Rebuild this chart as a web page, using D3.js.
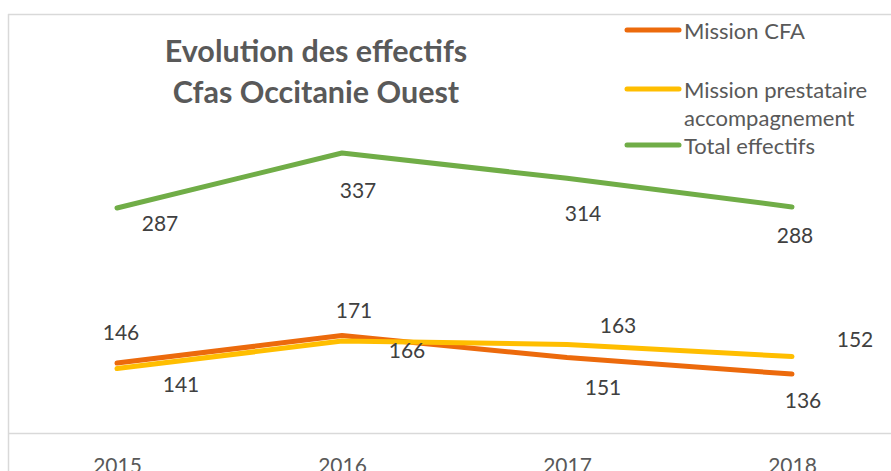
<!DOCTYPE html>
<html><head><meta charset="utf-8">
<script src="https://cdn.jsdelivr.net/npm/d3@7"></script>
<style>
html,body{margin:0;padding:0;background:#fff;overflow:hidden;}
svg{display:block;}
</style></head>
<body>
<svg id="chart" width="891" height="471"></svg>
<script>
// ---- data ----
const years = ["2015", "2016", "2017", "2018"];
const missionCFA = [146, 171, 151, 136];
const missionPrestataire = [141, 166, 163, 152];
const totalEffectifs = [287, 337, 314, 288];
const seriesNames = ["Mission CFA", "Mission prestataire accompagnement", "Total effectifs"];
const titleLines = ["Evolution des effectifs", "Cfas Occitanie Ouest"];

// ---- layout / style ----
const colors = ["#EC6A0C", "#FFBE00", "#70AD47"];
const labelOffsets = [
  [[4, -32], [12, -26], [36, 29], [11, 25]],
  [[64, 15], [65, 8], [51, -20], [63, -18]],
  [[43, 14], [16, 36], [16, 34], [3, 28]]
];
const svg = d3.select("#chart");
const W = 891, H = 471;

const x = d3.scalePoint().domain(years).range([117, 792]);
const y = d3.scaleLinear().domain([82, 387]).range([433.5, 98]);

// frame
svg.append("line").attr("x1", 8).attr("x2", W).attr("y1", 14.5).attr("y2", 14.5)
  .attr("stroke", "#d9d9d9").attr("stroke-width", 1.5);
svg.append("line").attr("x1", 8.5).attr("x2", 8.5).attr("y1", 14).attr("y2", H)
  .attr("stroke", "#d9d9d9").attr("stroke-width", 1.5);

// x axis
const xAxis = d3.axisBottom(x).tickSize(0).tickPadding(0);
const gx = svg.append("g").attr("transform", `translate(0,${y(82)})`).call(xAxis);
gx.select(".domain").remove();
svg.append("line").attr("x1", 8).attr("x2", W).attr("y1", y(82)).attr("y2", y(82))
  .attr("stroke", "#d9d9d9").attr("stroke-width", 1.5);
gx.selectAll("text")
  .attr("y", 39)
  .attr("dy", 0)
  .style("font-family", "Lato, 'Open Sans', sans-serif")
  .style("font-size", "21px")
  .style("fill", "#595959");

// title
const title = svg.append("text")
  .attr("text-anchor", "middle")
  .style("font-family", "Lato, 'Open Sans', sans-serif")
  .style("font-weight", "bold")
  .style("font-size", "30.5px")
  .style("fill", "#595959");
titleLines.forEach((t, i) => {
  title.append("tspan").attr("x", 316).attr("y", 62 + i * 41).text(t);
});

// lines
const series = [missionCFA, missionPrestataire, totalEffectifs];
const line = d3.line().x((d, i) => x(years[i])).y(d => y(d));
series.forEach((vals, s) => {
  svg.append("path").datum(vals)
    .attr("d", line)
    .attr("fill", "none")
    .attr("stroke", colors[s])
    .attr("stroke-width", 5)
    .attr("stroke-linecap", "round")
    .attr("stroke-linejoin", "round");
});

// data labels
series.forEach((vals, s) => {
  svg.append("g").selectAll("text").data(vals).join("text")
    .attr("x", (d, i) => x(years[i]) + labelOffsets[s][i][0])
    .attr("y", (d, i) => y(d) + labelOffsets[s][i][1])
    .attr("text-anchor", "middle")
    .attr("dominant-baseline", "central")
    .style("font-family", "Lato, 'Open Sans', sans-serif")
    .style("font-size", "21px")
    .style("fill", "#404040")
    .text(d => d);
});

// legend
const legendRows = [
  {lines: ["Mission CFA"], y: 30},
  {lines: ["Mission prestataire", "accompagnement"], y: 89},
  {lines: ["Total effectifs"], y: 145}
];
legendRows.forEach((r, i) => {
  svg.append("line").attr("x1", 627).attr("x2", 679).attr("y1", r.y).attr("y2", r.y)
    .attr("stroke", colors[i]).attr("stroke-width", 5).attr("stroke-linecap", "round");
  const t = svg.append("text")
    .style("font-family", "Lato, 'Open Sans', sans-serif")
    .style("font-size", "22px")
    .style("fill", "#595959");
  r.lines.forEach((ln, j) => {
    t.append("tspan").attr("x", 684).attr("y", r.y + j * 28)
      .attr("dominant-baseline", "central").text(ln);
  });
});
</script>
</body></html>
